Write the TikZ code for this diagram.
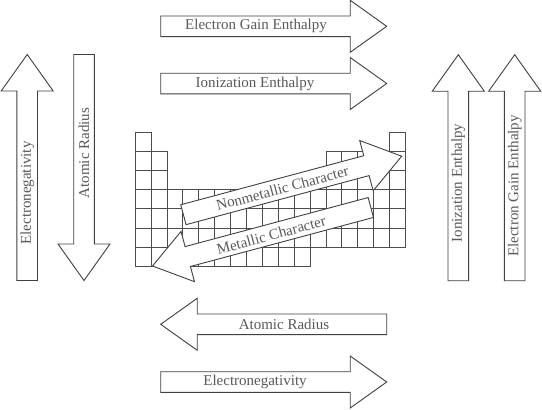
\documentclass[tikz,border=0pt]{standalone}
\usepackage{fontspec}
\setmainfont{Liberation Serif}
\tikzset{
  arrowline/.style={draw=black!75, line width=0.9pt, fill=white, line join=miter},
  fatarrow/.pic={\path[arrowline] (0,-10.3)--(189.5,-10.3)--(189.5,-26)--(226,0)--(189.5,26)--(189.5,10.3)--(0,10.3)--cycle;},
  arrowtext/.style={text=black!65, font=\fontsize{15}{18}\selectfont, inner sep=0pt},
  cell/.style={draw=black!70, line width=0.9pt}
}
\begin{document}
\begin{tikzpicture}[x=1pt,y=-1pt]
\useasboundingbox (0,0) rectangle (542,410);
\fill[white] (0,0) rectangle (542,410);
% periodic table grid
\begin{scope}[shift={(135.2,132.3)}, x=15.9pt, y=-19.14pt]
  \foreach \k in {0,16} \draw[cell] (\k,0) rectangle ++(1,1);
  \foreach \j in {1,2} \foreach \k in {0,1,12,13,14,15,16} \draw[cell] (\k,\j) rectangle ++(1,1);
  \foreach \j in {3,4,5} \foreach \k in {0,...,16} \draw[cell] (\k,\j) rectangle ++(1,1);
  \foreach \k in {0,...,10} \draw[cell] (\k,6) rectangle ++(1,1);
\end{scope}
% horizontal arrows
\pic at (160.7,26.3) {fatarrow};
\node[arrowtext] (egeTop) at (256,26.3) {Electron Gain Enthalpy};
\pic at (160.7,83.5) {fatarrow};
\node[arrowtext] (ieTop) at (255,83.5) {Ionization Enthalpy};
\pic[rotate=180] at (386.7,324.3) {fatarrow};
\node[arrowtext] (arBot) at (284,324.3) {Atomic Radius};
\pic at (160.7,382) {fatarrow};
\node[arrowtext] (enBot) at (255,382) {Electronegativity};
% vertical arrows, left
\pic[rotate=90] at (27.2,280.5) {fatarrow};
\node[arrowtext, rotate=90] (enLeft) at (27.2,193) {Electronegativity};
\pic[rotate=-90] at (84,54.5) {fatarrow};
\node[arrowtext, rotate=90] (arLeft) at (84,153) {Atomic Radius};
% vertical arrows, right
\pic[rotate=90] at (458.3,280.7) {fatarrow};
\node[arrowtext, rotate=90] (ieRight) at (458.3,183) {Ionization Enthalpy};
\pic[rotate=90] at (514.7,280.7) {fatarrow};
\node[arrowtext, rotate=90] (egeRight) at (514.7,186) {Electron Gain Enthalpy};
% diagonal arrows
\pic[rotate=15] at (183.4,214.7) {fatarrow};
\node[arrowtext, rotate=15] (nonmet) at (282.4,188.2) {Nonmetallic Character};
\pic[rotate=195] at (370.8,207.5) {fatarrow};
\node[arrowtext, rotate=15] (met) at (271.2,235) {Metallic Character};
\end{tikzpicture}
\end{document}
